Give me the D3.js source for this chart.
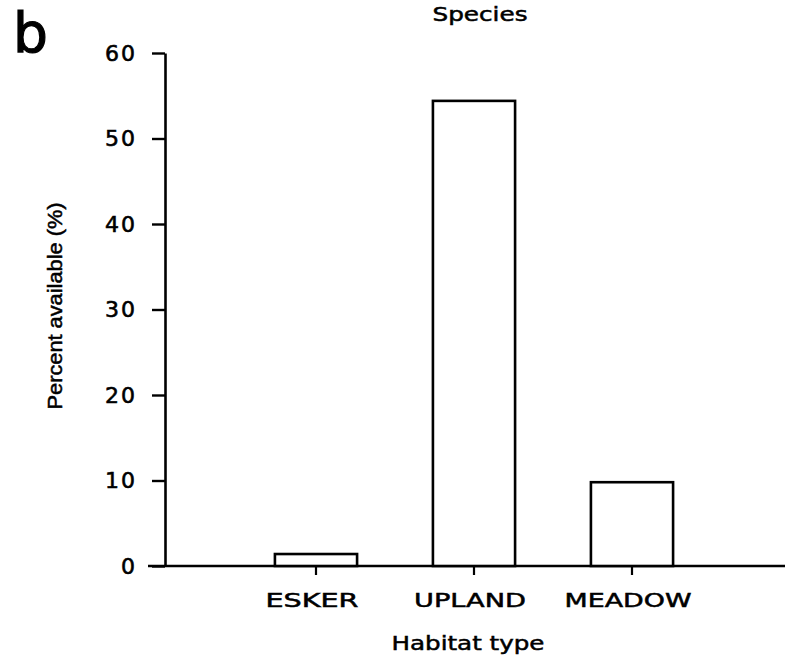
<!DOCTYPE html>
<html>
<head>
<meta charset="utf-8">
<script src="https://cdn.jsdelivr.net/npm/d3@7"></script>
<style>
  html, body { margin: 0; padding: 0; background: #fff; }
  svg { display: block; }
  text { fill: #000; }
</style>
</head>
<body>
<svg id="chart" width="785" height="659"></svg>
<script>
// Habitat availability for the species
const categories = ["ESKER", "UPLAND", "MEADOW"];
const percentAvailable = [1.4, 54.4, 9.8];
const yTicks = [0, 10, 20, 30, 40, 50, 60];
const categoryLabelWidths = { ESKER: 93, UPLAND: 112, MEADOW: 127 };

const svg = d3.select("#chart");
const font = "'DejaVu Sans', 'Liberation Sans', Arial, sans-serif";

const y = d3.scaleLinear().domain([0, 60]).range([566, 53]);
const x = d3.scaleBand()
  .domain(categories)
  .range([237, 711])
  .paddingInner(0.48)
  .paddingOuter(0.24);

const axisX = 165;

// y axis
const yAxis = svg.append("g")
  .attr("transform", `translate(${axisX},0)`)
  .call(d3.axisLeft(y).tickValues(yTicks).tickSize(13).tickPadding(15).tickSizeOuter(0));
yAxis.select(".domain").attr("stroke", "#000").attr("stroke-width", 2.6);
yAxis.selectAll(".tick line").attr("stroke", "#000").attr("stroke-width", 2.4);
yAxis.selectAll(".tick text")
  .attr("font-family", font)
  .attr("font-size", 22)
  .attr("letter-spacing", 2)
  .attr("stroke", "#000")
  .attr("stroke-width", 0.6);

// x axis baseline with category ticks
svg.append("line")
  .attr("x1", 148).attr("x2", 785)
  .attr("y1", y(0)).attr("y2", y(0))
  .attr("stroke", "#000").attr("stroke-width", 2.6);

const xAxis = svg.append("g")
  .attr("transform", `translate(0,${y(0)})`)
  .call(d3.axisBottom(x).tickSize(9).tickPadding(0).tickSizeOuter(0));
xAxis.select(".domain").remove();
xAxis.selectAll(".tick line").attr("stroke", "#000").attr("stroke-width", 2.2);
xAxis.selectAll(".tick text")
  .attr("font-family", font)
  .attr("font-size", 19)
  .attr("x", -4)
  .attr("y", 41)
  .attr("dy", 0)
  .attr("stroke", "#000")
  .attr("stroke-width", 0.5)
  .attr("textLength", d => categoryLabelWidths[d])
  .attr("lengthAdjust", "spacingAndGlyphs");

// bars
svg.append("g").selectAll("rect")
  .data(categories.map((c, i) => ({ c, v: percentAvailable[i] })))
  .join("rect")
  .attr("x", d => x(d.c))
  .attr("width", x.bandwidth())
  .attr("y", d => y(d.v))
  .attr("height", d => y(0) - y(d.v))
  .attr("fill", "#fff")
  .attr("stroke", "#000")
  .attr("stroke-width", 2.6);

// panel letter, title and axis labels
svg.append("text")
  .attr("x", 13).attr("y", 52)
  .attr("font-family", font)
  .attr("font-size", 55)
  .attr("stroke", "#000")
  .attr("stroke-width", 1.2)
  .text("b");

svg.append("text")
  .attr("x", 480).attr("y", 21)
  .attr("text-anchor", "middle")
  .attr("font-family", font)
  .attr("font-size", 19)
  .attr("stroke", "#000")
  .attr("stroke-width", 0.5)
  .attr("textLength", 95)
  .attr("lengthAdjust", "spacingAndGlyphs")
  .text("Species");

svg.append("text")
  .attr("x", 468).attr("y", 650)
  .attr("text-anchor", "middle")
  .attr("font-family", font)
  .attr("font-size", 20)
  .attr("stroke", "#000")
  .attr("stroke-width", 0.5)
  .attr("textLength", 153)
  .attr("lengthAdjust", "spacingAndGlyphs")
  .text("Habitat type");

svg.append("text")
  .attr("transform", "translate(62,306) rotate(-90)")
  .attr("text-anchor", "middle")
  .attr("font-family", "'Liberation Sans Narrow', 'Liberation Sans', Arial, sans-serif")
  .attr("font-size", 21)
  .attr("stroke", "#000")
  .attr("stroke-width", 0.5)
  .attr("textLength", 207)
  .attr("lengthAdjust", "spacingAndGlyphs")
  .text("Percent available (%)");
</script>
</body>
</html>
